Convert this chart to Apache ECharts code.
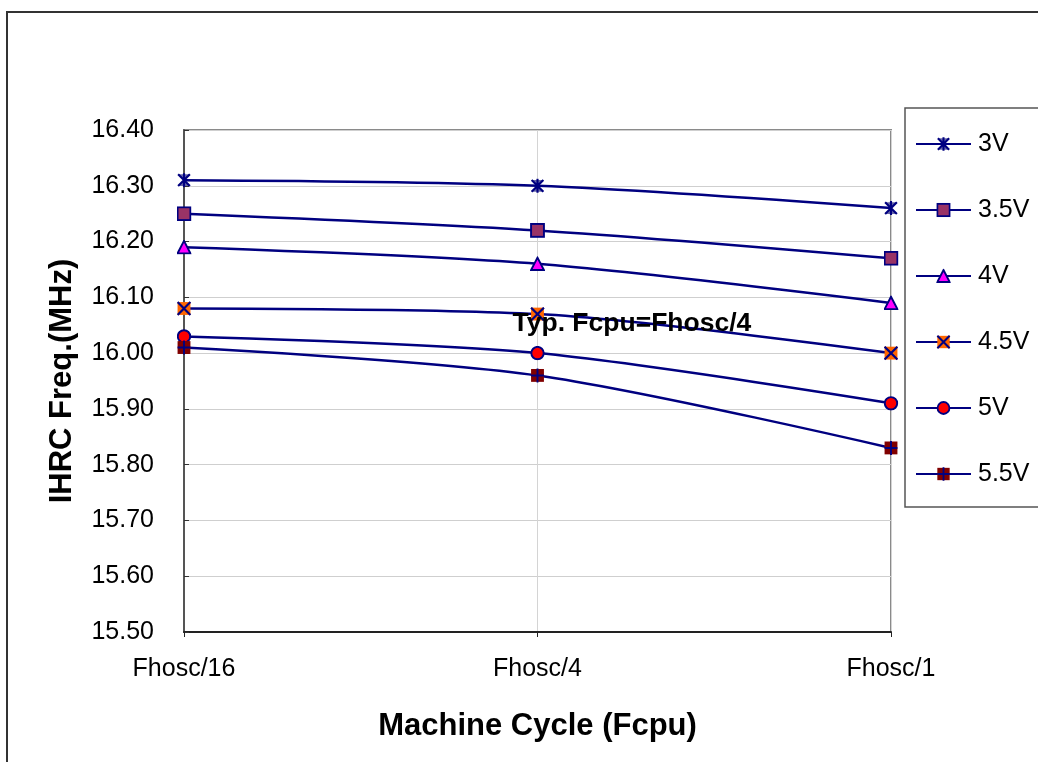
<!DOCTYPE html>
<html>
<head>
<meta charset="utf-8">
<script src="https://cdn.jsdelivr.net/npm/echarts@6/dist/echarts.min.js"></script>
<style>
html,body{margin:0;padding:0;background:#fff;}
#chart{width:1038px;height:762px;}
</style>
</head>
<body>
<div id="chart"></div>
<script>
// ---- data ----
const categories = ['Fhosc/16', 'Fhosc/4', 'Fhosc/1'];
const seriesNames = ['3V', '3.5V', '4V', '4.5V', '5V', '5.5V'];
const v3_0 = [16.31, 16.30, 16.26];
const v3_5 = [16.25, 16.22, 16.17];
const v4_0 = [16.19, 16.16, 16.09];
const v4_5 = [16.08, 16.07, 16.00];
const v5_0 = [16.03, 16.00, 15.91];
const v5_5 = [16.01, 15.96, 15.83];
const yTicks = {min: 15.5, max: 16.4, interval: 0.1};
const annotationText = 'Typ. Fcpu=Fhosc/4';
const annotationAnchor = [categories[1], v4_5[1]];
const xTitle = 'Machine Cycle (Fcpu)';
const yTitle = 'IHRC Freq.(MHz)';

const values = [v3_0, v3_5, v4_0, v4_5, v5_0, v5_5];

// ---- marker drawings (SVG) ----
const NAVY = '#000080';
const markerBodies = [
  '<polygon points="1.5,1.5 12.5,1.5 7,7 12.5,12.5 1.5,12.5 7,7" fill="#6868a8"/>' +
  '<path d="M1.5,1.5 L12.5,12.5 M12.5,1.5 L1.5,12.5 M7,0.5 L7,13.5" stroke="' + NAVY + '" stroke-width="2" fill="none"/>',
  '<rect x="1" y="1" width="12" height="12" fill="#993366" stroke="' + NAVY + '" stroke-width="1.8"/>',
  '<polygon points="7,1.2 13,12.8 1,12.8" fill="#FF00FF" stroke="' + NAVY + '" stroke-width="1.8"/>',
  '<rect x="1" y="1" width="12" height="12" fill="#FF6600"/>' +
  '<path d="M1,1 L13,13 M13,1 L1,13" stroke="' + NAVY + '" stroke-width="2" fill="none"/>',
  '<circle cx="7" cy="7" r="5.8" fill="#FF0000" stroke="' + NAVY + '" stroke-width="1.8"/>',
  '<rect x="1" y="1" width="12" height="12" fill="#800000"/>' +
  '<path d="M7,0.5 L7,13.5 M1,7 L13,7" stroke="' + NAVY + '" stroke-width="1.8" fill="none"/>'
];
function svgUri(svg) {
  return 'image://data:image/svg+xml;charset=utf-8,' + encodeURIComponent(svg);
}
function markerSymbol(i) {
  return svgUri('<svg xmlns="http://www.w3.org/2000/svg" width="14" height="14" viewBox="0 0 14 14">' + markerBodies[i] + '</svg>');
}

const chart = echarts.init(document.getElementById('chart'));
const FONT = 'Liberation Sans, Arial, sans-serif';

const series = seriesNames.map((name, i) => ({
  name: name,
  type: 'line',
  data: values[i],
  smooth: 0.3,
  symbol: markerSymbol(i),
  symbolSize: 15,
  showAllSymbol: true,
  lineStyle: {color: NAVY, width: 2.5},
  itemStyle: {color: NAVY},
  emphasis: {disabled: true},
  z: 3
}));

const frameGraphics = [
  {type: 'rect', shape: {x: 7, y: 12, width: 1200, height: 900},
    style: {fill: 'none', stroke: '#333', lineWidth: 2}, z: 0, silent: true},
  {type: 'rect', shape: {x: 905, y: 108, width: 300, height: 399},
    style: {fill: '#fff', stroke: '#555', lineWidth: 1.5}, z: -1, silent: true}
];

chart.setOption({
  animation: false,
  backgroundColor: '#fff',
  grid: {
    left: 184, right: 147, top: 130, bottom: 130,
    show: true, borderColor: '#8a8a8a', borderWidth: 2, backgroundColor: '#fff'
  },
  legend: {
    orient: 'vertical',
    left: 910,
    top: 125,
    itemWidth: 55,
    itemHeight: 18,
    itemGap: 38,
    selectedMode: false,
    textStyle: {fontFamily: FONT, fontSize: 25, color: '#000', padding: [0, 0, 0, 2], lineHeight: 28},
    data: seriesNames
  },
  xAxis: {
    type: 'category',
    data: categories,
    boundaryGap: false,
    name: xTitle,
    nameLocation: 'middle',
    nameGap: 79,
    nameTextStyle: {fontFamily: FONT, fontWeight: 'bold', fontSize: 31, color: '#000'},
    axisLine: {lineStyle: {color: '#222', width: 2}},
    axisTick: {show: true, inside: false, length: 5, lineStyle: {color: '#222'}},
    axisLabel: {fontFamily: FONT, fontSize: 25, color: '#000', margin: 25},
    splitLine: {show: true, lineStyle: {color: '#d4d4d4', width: 1}}
  },
  yAxis: {
    type: 'value',
    min: yTicks.min,
    max: yTicks.max,
    interval: yTicks.interval,
    name: yTitle,
    nameLocation: 'middle',
    nameRotate: 90,
    nameGap: 106,
    nameTextStyle: {fontFamily: FONT, fontWeight: 'bold', fontSize: 31, color: '#000'},
    axisLine: {show: true, lineStyle: {color: '#555', width: 2}},
    axisTick: {show: true, inside: true, length: 5, lineStyle: {color: '#333'}},
    axisLabel: {fontFamily: FONT, fontSize: 25, color: '#000', margin: 30,
      formatter: v => v.toFixed(2)},
    splitLine: {show: true, lineStyle: {color: '#cfcfcf', width: 1}}
  },
  graphic: frameGraphics,
  series: series
});

// annotation placed through the chart's own scales
const anchor = chart.convertToPixel({gridIndex: 0}, annotationAnchor);
chart.setOption({
  graphic: frameGraphics.concat([
    {type: 'text', x: anchor[0] - 25, y: anchor[1] + 10, z: 100, silent: true,
      style: {text: annotationText, fill: '#000', fontFamily: FONT, fontWeight: 'bold',
        fontSize: 26.5, textVerticalAlign: 'middle', textAlign: 'left'}}
  ])
});
</script>
</body>
</html>
